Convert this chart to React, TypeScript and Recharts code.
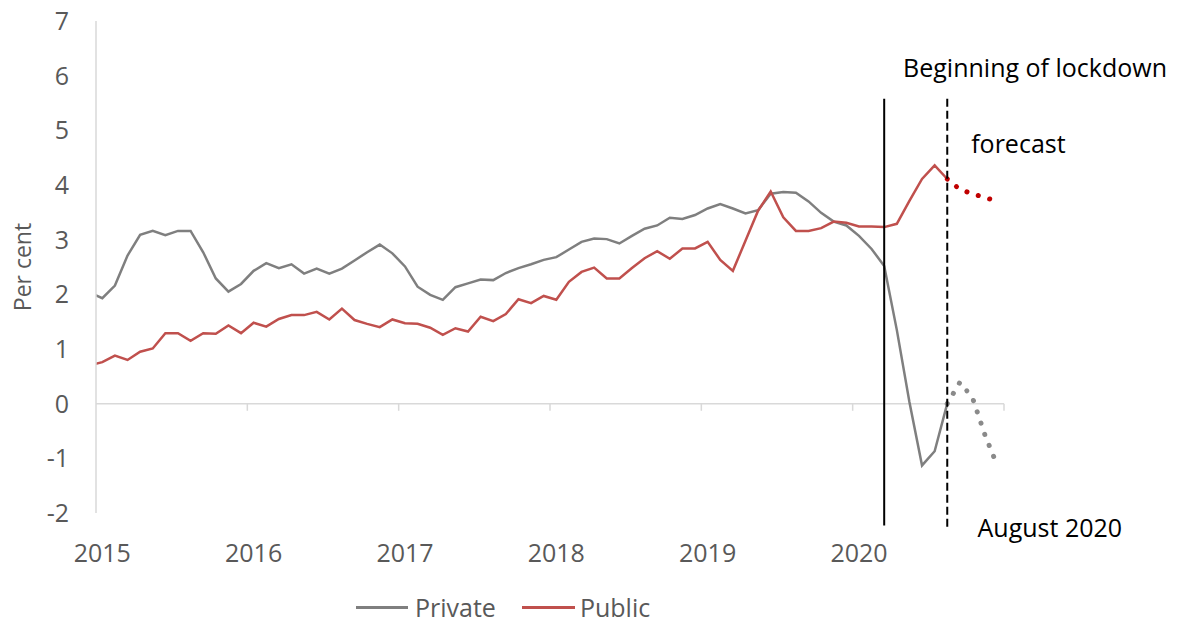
import React from "react";
import {
  LineChart,
  Line,
  XAxis,
  YAxis,
  ReferenceLine,
  ReferenceDot,
  Legend
} from "recharts";

// monthly rates, Dec 2014 .. Aug 2020 (first value sits just left of the axis and is clipped)
const privateRate = [
  2.03,
  1.93, 2.16, 2.71, 3.09, 3.16, 3.08, 3.16, 3.16, 2.77, 2.29, 2.05, 2.19,
  2.43, 2.57, 2.48, 2.55, 2.38, 2.47, 2.38, 2.47, 2.62, 2.77, 2.91, 2.75,
  2.51, 2.14, 1.99, 1.90, 2.13, 2.20, 2.27, 2.26, 2.39, 2.48, 2.55, 2.63,
  2.68, 2.82, 2.96, 3.02, 3.01, 2.93, 3.07, 3.20, 3.26, 3.40, 3.38, 3.45,
  3.57, 3.65, 3.57, 3.48, 3.54, 3.84, 3.87, 3.86, 3.70, 3.49, 3.33, 3.26,
  3.07, 2.83, 2.52, 1.35, 0.03, -1.13, -0.87, 0.0
];

const publicRate = [
  0.70,
  0.76, 0.88, 0.80, 0.95, 1.01, 1.29, 1.29, 1.15, 1.29, 1.28, 1.43, 1.29,
  1.48, 1.41, 1.55, 1.62, 1.62, 1.68, 1.54, 1.74, 1.53, 1.46, 1.40, 1.54,
  1.47, 1.46, 1.39, 1.26, 1.38, 1.32, 1.59, 1.51, 1.64, 1.91, 1.84, 1.97,
  1.90, 2.23, 2.41, 2.49, 2.29, 2.29, 2.48, 2.66, 2.79, 2.65, 2.84, 2.84,
  2.96, 2.63, 2.43, 2.98, 3.53, 3.88, 3.41, 3.16, 3.16, 3.21, 3.33, 3.31,
  3.24, 3.24, 3.23, 3.29, 3.71, 4.11, 4.36, 4.11
];

// forecast, Aug 2020 .. Dec 2020
const privateForecast = [0.0, 0.39, 0.11, -0.58, -1.15];
const publicForecast = [4.11, 3.92, 3.84, 3.77, 3.70];

const years = ["2015", "2016", "2017", "2018", "2019", "2020"];
const yTicks = [-2, -1, 0, 1, 2, 3, 4, 5, 6, 7];

const LOCKDOWN = 62; // Mar 2020 (months since Jan 2015)
const AUGUST = 67; // Aug 2020

const FONT = "'Open Sans', sans-serif";
const GREY = "#7f7f7f";
const RED = "#c0504d";

// one row per month; t is the middle of the month
const data: any[] = [];
for (let m = -1; m < 72; m++) {
  const row: any = { t: m + 0.5 };
  if (m + 1 < privateRate.length) {
    row.private = privateRate[m + 1];
    row.public = publicRate[m + 1];
  }
  if (m >= AUGUST && m - AUGUST < privateForecast.length) {
    row.privateF = privateForecast[m - AUGUST];
    row.publicF = publicForecast[m - AUGUST];
  }
  data.push(row);
}

const yearTicks = years.map((_, i) => i * 12 + 0.5);
const tickMarks = [12, 24, 36, 48, 60, 72];

const YearTick = (props: any) => {
  const { x, y, payload } = props;
  return (
    <text x={x} y={y + 37} textAnchor="middle" dominantBaseline="central"
      fill="#595959" fontSize={25} fontFamily={FONT}>
      {years[Math.floor(payload.value / 12)]}
    </text>
  );
};

const Note = (props: any) => {
  const { viewBox, text } = props;
  return (
    <text x={viewBox.x} y={viewBox.y} dominantBaseline="central"
      fill="#000" fontSize={25} fontFamily={FONT}>
      {text}
    </text>
  );
};

const AxisTitle = (props: any) => {
  const { viewBox } = props;
  const cx = viewBox.x - 14;
  const cy = viewBox.y + viewBox.height / 2;
  return (
    <text x={cx} y={cy} transform={`rotate(-90 ${cx} ${cy})`} textAnchor="middle"
      dominantBaseline="central" fill="#595959" fontSize={23} fontFamily={FONT}>
      Per cent
    </text>
  );
};

const renderLegend = () => (
  <div style={{ display: "flex", alignItems: "center", height: 30, fontFamily: FONT, fontSize: 25, color: "#595959" }}>
    <span style={{ display: "inline-block", width: 52, height: 3, background: GREY, marginRight: 7 }} />
    <span>Private</span>
    <span style={{ display: "inline-block", width: 53, height: 3, background: RED, marginLeft: 26, marginRight: 5 }} />
    <span>Public</span>
  </div>
);

export default function App() {
  return (
    <div>
      <style>{"svg.recharts-surface { overflow: visible; }"}</style>
      <LineChart
        width={1179}
        height={614}
        data={data}
        margin={{ top: 13, right: 183, left: 28, bottom: 29 }}
      >
        <XAxis
          dataKey="t"
          type="number"
          domain={[0, 72]}
          allowDataOverflow
          ticks={yearTicks}
          interval={0}
          axisLine={false}
          tickLine={false}
          tickSize={0}
          height={50}
          tick={<YearTick />}
        />
        <YAxis
          type="number"
          domain={[-2, 7]}
          ticks={yTicks}
          interval={0}
          width={60}
          axisLine={{ stroke: "#d9d9d9", strokeWidth: 1.5 }}
          tickLine={false}
          tickSize={6}
          tickMargin={21}
          tick={{ fill: "#595959", fontSize: 25, fontFamily: FONT }}
          label={<AxisTitle />}
        />
        <ReferenceLine y={0} stroke="#d9d9d9" strokeWidth={1.5} />
        {tickMarks.map((m) => (
          <ReferenceLine key={m} segment={[{ x: m, y: 0 }, { x: m, y: -0.13 }]}
            stroke="#d9d9d9" strokeWidth={1.5} ifOverflow="visible" />
        ))}
        <Line type="linear" dataKey="private" stroke={GREY} strokeWidth={2.5} dot={false}
          isAnimationActive={false} legendType="none" />
        <Line type="linear" dataKey="public" stroke={RED} strokeWidth={2.5} dot={false}
          isAnimationActive={false} legendType="none" />
        <Line type="linear" dataKey="privateF" stroke="#8a8a8a" strokeWidth={5} strokeLinecap="round"
          strokeDasharray="0.1 11.8" dot={false} isAnimationActive={false} legendType="none" />
        <Line type="linear" dataKey="publicF" stroke="#c00000" strokeWidth={5} strokeLinecap="round"
          strokeDasharray="0.1 11.8" dot={false} isAnimationActive={false} legendType="none" />
        <ReferenceLine segment={[{ x: LOCKDOWN + 0.5, y: 5.58 }, { x: LOCKDOWN + 0.5, y: -2.23 }]}
          stroke="#000" strokeWidth={2} ifOverflow="visible" />
        <ReferenceLine segment={[{ x: AUGUST + 0.5, y: 5.58 }, { x: AUGUST + 0.5, y: -2.32 }]}
          stroke="#000" strokeWidth={2} strokeDasharray="8 4" ifOverflow="visible" />
        <ReferenceDot x={64.0} y={6.15} r={0} ifOverflow="visible" label={<Note text="Beginning of lockdown" />} />
        <ReferenceDot x={69.4} y={4.77} r={0} ifOverflow="visible" label={<Note text="forecast" />} />
        <ReferenceDot x={69.9} y={-2.25} r={0} ifOverflow="visible" label={<Note text="August 2020" />} />
        <Legend content={renderLegend} wrapperStyle={{ left: 348, bottom: 0, width: 340 }} />
      </LineChart>
    </div>
  );
}
